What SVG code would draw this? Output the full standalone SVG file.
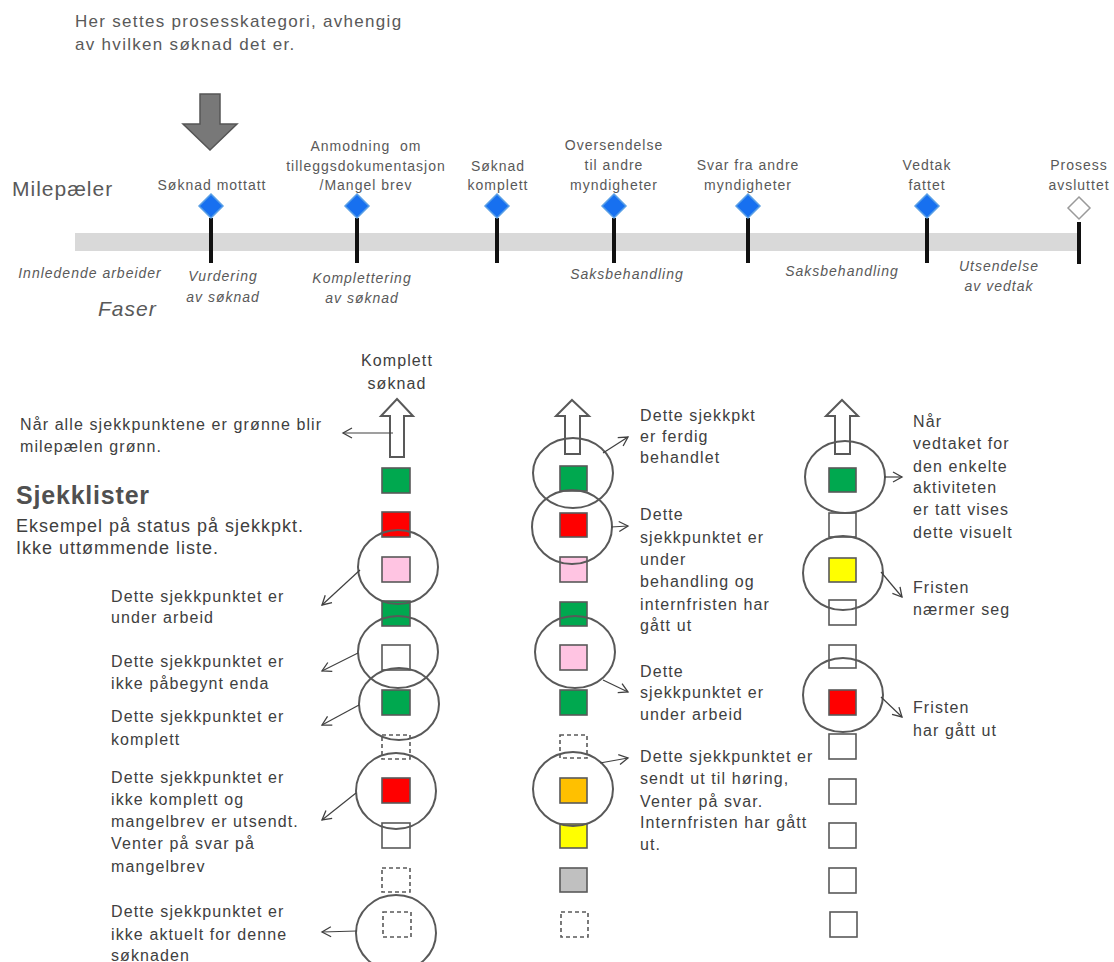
<svg xmlns="http://www.w3.org/2000/svg" width="1114" height="962" viewBox="0 0 1114 962">
  <style>
    text { font-family: "Liberation Sans", Arial, sans-serif; }
    .head { font-size: 17px; fill: #595959; letter-spacing: 1.3px; }
    .ms { font-size: 14px; fill: #595959; letter-spacing: 1px; text-anchor: middle; }
    .ph { font-size: 14px; font-style: italic; fill: #595959; letter-spacing: 1px; text-anchor: middle; }
    .big { font-size: 21px; fill: #595959; letter-spacing: 1px; }
    .note { font-size: 16px; fill: #404040; letter-spacing: 1.1px; }
    .title { font-size: 25px; font-weight: bold; fill: #505050; letter-spacing: 0.8px; }
    .sub { font-size: 18px; fill: #404040; letter-spacing: 1px; }
    .tick { fill: #111; }
    .dia { fill: #1770f0; stroke: #5aa0e6; stroke-width: 1.5; }
    .sq { stroke: #595959; stroke-width: 1.6; }
    .dash { fill: #fff; stroke: #595959; stroke-width: 1.6; stroke-dasharray: 4 3; }
    .ring { fill: none; stroke: #595959; stroke-width: 2; }
    .hollow { fill: #fff; stroke: #595959; stroke-width: 2; stroke-linejoin: miter; }
    .lead { fill: none; stroke: #404040; stroke-width: 1.2; marker-end: url(#open); }
  </style>
  <defs>
    <marker id="open" markerUnits="userSpaceOnUse" markerWidth="12" markerHeight="12" refX="9" refY="5" orient="auto" overflow="visible">
      <path d="M0,0 L9,5 L0,10" fill="none" stroke="#404040" stroke-width="1.3"/>
    </marker>
  </defs>

  <!-- heading and category arrow -->
  <g id="category">
    <text class="head" x="75" y="27">Her settes prosesskategori, avhengig</text>
    <text class="head" x="75" y="50">av hvilken søknad det er.</text>
    <path d="M200,94 H220 V124 H237 L210,150 L183,124 H200 Z" fill="#787878" stroke="#555" stroke-width="1.5"/>
  </g>

  <!-- timeline -->
  <g id="timeline">
    <text class="big" x="12" y="196">Milepæler</text>
    <text class="big" x="98" y="316" font-style="italic" letter-spacing="1.5">Faser</text>
    <rect x="75" y="233" width="1002" height="18" fill="#d9d9d9"/>
  </g>

  <g id="ms-mottatt">
    <text class="ms" x="212" y="190">Søknad mottatt</text>
    <rect class="tick" x="209" y="218" width="4" height="45"/>
    <path class="dia" d="M211,194 L223,206 L211,218 L199,206 Z"/>
  </g>
  <g id="ms-anmodning">
    <text class="ms" x="366" y="151" style="white-space:pre">Anmodning  om</text>
    <text class="ms" x="366" y="171">tilleggsdokumentasjon</text>
    <text class="ms" x="366" y="190">/Mangel brev</text>
    <rect class="tick" x="355" y="218" width="4" height="45"/>
    <path class="dia" d="M357,194 L369,206 L357,218 L345,206 Z"/>
  </g>
  <g id="ms-komplett">
    <text class="ms" x="498" y="171">Søknad</text>
    <text class="ms" x="498" y="190">komplett</text>
    <rect class="tick" x="495" y="218" width="4" height="45"/>
    <path class="dia" d="M497,194 L509,206 L497,218 L485,206 Z"/>
  </g>
  <g id="ms-oversendelse">
    <text class="ms" x="614" y="150">Oversendelse</text>
    <text class="ms" x="614" y="170">til andre</text>
    <text class="ms" x="614" y="190">myndigheter</text>
    <rect class="tick" x="612" y="218" width="4" height="45"/>
    <path class="dia" d="M614,194 L626,206 L614,218 L602,206 Z"/>
  </g>
  <g id="ms-svar">
    <text class="ms" x="748" y="170">Svar fra andre</text>
    <text class="ms" x="748" y="190">myndigheter</text>
    <rect class="tick" x="746" y="218" width="4" height="45"/>
    <path class="dia" d="M748,194 L760,206 L748,218 L736,206 Z"/>
  </g>
  <g id="ms-vedtak">
    <text class="ms" x="927" y="170">Vedtak</text>
    <text class="ms" x="927" y="190">fattet</text>
    <rect class="tick" x="925" y="218" width="4" height="45"/>
    <path class="dia" d="M927,194 L939,206 L927,218 L915,206 Z"/>
  </g>
  <g id="ms-avsluttet">
    <text class="ms" x="1079" y="170">Prosess</text>
    <text class="ms" x="1079" y="190">avsluttet</text>
    <rect class="tick" x="1077" y="222" width="4" height="42"/>
    <path d="M1079,197 L1090,208 L1079,219 L1068,208 Z" fill="#fff" stroke="#9a9a9a" stroke-width="1.5"/>
  </g>

  <!-- phases -->
  <g id="phases">
    <text class="ph" x="90" y="278">Innledende arbeider</text>
    <text class="ph" x="223" y="281">Vurdering</text>
    <text class="ph" x="223" y="302">av søknad</text>
    <text class="ph" x="362" y="283">Komplettering</text>
    <text class="ph" x="362" y="303">av søknad</text>
    <text class="ph" x="627" y="279">Saksbehandling</text>
    <text class="ph" x="842" y="276">Saksbehandling</text>
    <text class="ph" x="999" y="271">Utsendelse</text>
    <text class="ph" x="999" y="291">av vedtak</text>
  </g>

  <!-- legend texts -->
  <g id="legend">
    <text class="note" x="20" y="430">Når alle sjekkpunktene er grønne blir</text>
    <text class="note" x="20" y="452">milepælen grønn.</text>
    <text class="title" x="16" y="504">Sjekklister</text>
    <text class="sub" x="16" y="532">Eksempel på status på sjekkpkt.</text>
    <text class="sub" x="16" y="554">Ikke uttømmende liste.</text>
  </g>

  <!-- checklist column 1 -->
  <g id="col1">
    <text class="note" x="397" y="366" text-anchor="middle" font-size="17">Komplett</text>
    <text class="note" x="397" y="389" text-anchor="middle" font-size="17">søknad</text>
    <path class="hollow" d="M397,399 L413,416 L404,416 L404,457 L390,457 L390,416 L381,416 Z"/>
    <rect class="sq" x="382" y="468" width="28" height="25" fill="#00a84f"/>
    <rect class="sq" x="382" y="512" width="28" height="25" fill="#ff0000"/>
    <rect class="sq" x="382" y="557" width="28" height="25" fill="#ffc4e2"/>
    <rect class="sq" x="382" y="601" width="28" height="25" fill="#00a84f"/>
    <rect class="sq" x="382" y="645" width="28" height="25" fill="#fff"/>
    <rect class="sq" x="382" y="690" width="28" height="25" fill="#00a84f"/>
    <rect class="dash" x="382" y="735" width="28" height="24"/>
    <rect class="sq" x="382" y="778" width="28" height="25" fill="#ff0000"/>
    <rect class="sq" x="382" y="823" width="28" height="25" fill="#fff"/>
    <rect class="dash" x="382" y="868" width="28" height="24"/>
    <rect class="dash" x="383" y="912" width="28" height="25"/>
    <ellipse class="ring" cx="398" cy="567" rx="40" ry="37"/>
    <ellipse class="ring" cx="398" cy="652" rx="40" ry="36"/>
    <ellipse class="ring" cx="399" cy="704" rx="40" ry="36"/>
    <ellipse class="ring" cx="396" cy="791" rx="40" ry="38"/>
    <ellipse class="ring" cx="396" cy="933" rx="40" ry="38"/>
    <text class="note" x="111" y="602">Dette sjekkpunktet er</text>
    <text class="note" x="111" y="623">under arbeid</text>
    <text class="note" x="111" y="667">Dette sjekkpunktet er</text>
    <text class="note" x="111" y="689">ikke påbegynt enda</text>
    <text class="note" x="111" y="722">Dette sjekkpunktet er</text>
    <text class="note" x="111" y="745">komplett</text>
    <text class="note" x="111" y="783">Dette sjekkpunktet er</text>
    <text class="note" x="111" y="805">ikke komplett og</text>
    <text class="note" x="111" y="827">mangelbrev er utsendt.</text>
    <text class="note" x="111" y="849">Venter på svar på</text>
    <text class="note" x="111" y="872">mangelbrev</text>
    <text class="note" x="111" y="917">Dette sjekkpunktet er</text>
    <text class="note" x="111" y="940">ikke aktuelt for denne</text>
    <text class="note" x="111" y="961">søknaden</text>
  </g>

  <!-- checklist column 2 -->
  <g id="col2">
    <path class="hollow" d="M572,400 L589,416 L580,416 L580,454 L565,454 L565,416 L556,416 Z"/>
    <rect class="sq" x="560" y="466" width="27" height="25" fill="#00a84f"/>
    <rect class="sq" x="560" y="513" width="27" height="24" fill="#ff0000"/>
    <rect class="sq" x="560" y="557" width="27" height="25" fill="#ffc4e2"/>
    <rect class="sq" x="560" y="602" width="27" height="24" fill="#00a84f"/>
    <rect class="sq" x="560" y="645" width="27" height="25" fill="#ffc4e2"/>
    <rect class="sq" x="560" y="690" width="27" height="25" fill="#00a84f"/>
    <rect class="dash" x="560" y="735" width="27" height="23"/>
    <rect class="sq" x="560" y="778" width="27" height="25" fill="#ffc000"/>
    <rect class="sq" x="560" y="824" width="27" height="24" fill="#ffff00"/>
    <rect class="sq" x="560" y="868" width="27" height="24" fill="#c0c0c0"/>
    <rect class="dash" x="561" y="912" width="27" height="25"/>
    <ellipse class="ring" cx="573" cy="473" rx="40" ry="35"/>
    <ellipse class="ring" cx="572" cy="527" rx="40" ry="37"/>
    <ellipse class="ring" cx="575" cy="652" rx="40" ry="36"/>
    <ellipse class="ring" cx="573" cy="789" rx="40" ry="37"/>
    <text class="note" x="640" y="421">Dette sjekkpkt</text>
    <text class="note" x="640" y="442">er ferdig</text>
    <text class="note" x="640" y="463">behandlet</text>
    <text class="note" x="640" y="520">Dette</text>
    <text class="note" x="640" y="543">sjekkpunktet er</text>
    <text class="note" x="640" y="565">under</text>
    <text class="note" x="640" y="587">behandling og</text>
    <text class="note" x="640" y="610">internfristen har</text>
    <text class="note" x="640" y="631">gått ut</text>
    <text class="note" x="640" y="677">Dette</text>
    <text class="note" x="640" y="698">sjekkpunktet er</text>
    <text class="note" x="640" y="720">under arbeid</text>
    <text class="note" x="640" y="762">Dette sjekkpunktet er</text>
    <text class="note" x="640" y="784">sendt ut til høring,</text>
    <text class="note" x="640" y="807">Venter på svar.</text>
    <text class="note" x="640" y="828">Internfristen har gått</text>
    <text class="note" x="640" y="850">ut.</text>
  </g>

  <!-- checklist column 3 -->
  <g id="col3">
    <path class="hollow" d="M842,400 L858,416 L850,416 L850,454 L835,454 L835,416 L826,416 Z"/>
    <rect class="sq" x="829" y="513" width="27" height="24" fill="#fff"/>
    <rect class="sq" x="829" y="468" width="27" height="24" fill="#00a84f"/>
    <rect class="sq" x="829" y="558" width="27" height="24" fill="#ffff00"/>
    <rect class="sq" x="829" y="600" width="27" height="25" fill="#fff"/>
    <rect class="sq" x="829" y="645" width="27" height="23" fill="#fff"/>
    <rect class="sq" x="829" y="690" width="27" height="25" fill="#ff0000"/>
    <rect class="sq" x="829" y="734" width="27" height="25" fill="#fff"/>
    <rect class="sq" x="829" y="779" width="27" height="25" fill="#fff"/>
    <rect class="sq" x="829" y="823" width="27" height="25" fill="#fff"/>
    <rect class="sq" x="829" y="868" width="27" height="25" fill="#fff"/>
    <rect class="sq" x="830" y="912" width="27" height="25" fill="#fff"/>
    <ellipse class="ring" cx="845" cy="477" rx="40" ry="36"/>
    <ellipse class="ring" cx="843" cy="573" rx="40" ry="37"/>
    <ellipse class="ring" cx="843" cy="695" rx="40" ry="37"/>
    <text class="note" x="913" y="427">Når</text>
    <text class="note" x="913" y="449">vedtaket for</text>
    <text class="note" x="913" y="472">den enkelte</text>
    <text class="note" x="913" y="493">aktiviteten</text>
    <text class="note" x="913" y="515">er tatt vises</text>
    <text class="note" x="913" y="538">dette visuelt</text>
    <text class="note" x="913" y="593">Fristen</text>
    <text class="note" x="913" y="615">nærmer seg</text>
    <text class="note" x="913" y="713">Fristen</text>
    <text class="note" x="913" y="736">har gått ut</text>
  </g>

  <!-- leader arrows -->
  <g id="connectors">
    <line class="lead" x1="393" y1="433" x2="343" y2="433"/>
    <line class="lead" x1="360" y1="570" x2="322" y2="605"/>
    <line class="lead" x1="358" y1="653" x2="322" y2="671"/>
    <line class="lead" x1="359" y1="705" x2="322" y2="725"/>
    <line class="lead" x1="356" y1="793" x2="322" y2="820"/>
    <line class="lead" x1="357" y1="931" x2="322" y2="932"/>
    <line class="lead" x1="603" y1="453" x2="628" y2="437"/>
    <line class="lead" x1="611" y1="527" x2="628" y2="526"/>
    <line class="lead" x1="603" y1="680" x2="628" y2="692"/>
    <line class="lead" x1="600" y1="763" x2="628" y2="758"/>
    <line class="lead" x1="884" y1="477" x2="902" y2="477"/>
    <line class="lead" x1="881" y1="572" x2="902" y2="597"/>
    <line class="lead" x1="881" y1="697" x2="902" y2="717"/>
  </g>
</svg>
